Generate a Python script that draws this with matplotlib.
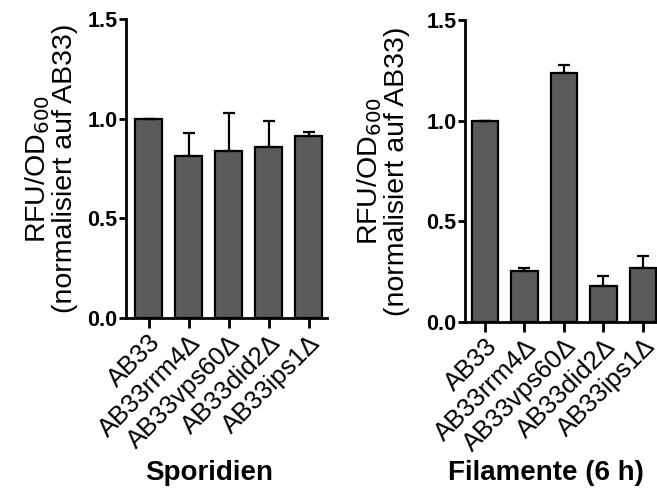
import matplotlib as mpl
mpl.use('Agg')
import matplotlib.pyplot as plt

plt.rcParams['font.family'] = ['Liberation Sans', 'DejaVu Sans']

strains = ['AB33', 'AB33rrm4\u0394', 'AB33vps60\u0394', 'AB33did2\u0394', 'AB33ips1\u0394']

spor_mean = [1.0, 0.815, 0.84, 0.857, 0.915]
spor_err = [0.0, 0.115, 0.19, 0.13, 0.02]

fil_mean = [1.0, 0.25, 1.238, 0.18, 0.267]
fil_err = [0.0, 0.017, 0.04, 0.048, 0.058]

yticks = [0.0, 0.5, 1.0, 1.5]
ylabel = 'RFU/OD$_{600}$\n(normalisiert auf AB33)'
bar_color = '#5a5a5a'


def draw_panel(ax, means, errs, xlim, title, title_x, label_x):
    x = list(range(len(strains)))
    ax.bar(x, means, width=0.67, color=bar_color, edgecolor='black', linewidth=1.6, zorder=2)
    ax.errorbar(x, means, yerr=[[0] * len(errs), errs], fmt='none', ecolor='black',
                elinewidth=1.6, capsize=4, capthick=1.6, zorder=3)
    ax.set_xlim(xlim)
    ax.set_ylim(0, 1.5)
    ax.set_yticks(yticks)
    ax.set_yticklabels(['%.1f' % v for v in yticks], fontsize=15.5, fontweight='bold')
    ax.set_xticks(x)
    # top-right corner anchored at the tick: pushes the text down and to the right
    ax.set_xticklabels(strains, rotation=45, ha='right', va='top',
                       rotation_mode='anchor', fontsize=18.5)
    ax.set_ylabel(ylabel, fontsize=20.5, linespacing=1.0)
    ax.yaxis.set_label_coords(label_x, 0.5)
    for s in ['top', 'right']:
        ax.spines[s].set_visible(False)
    for s in ['left', 'bottom']:
        ax.spines[s].set_linewidth(2)
    ax.tick_params(axis='both', width=2, direction='out')
    ax.tick_params(axis='x', length=7, pad=2)
    ax.tick_params(axis='y', length=5, pad=1)
    ax.figure.text(title_x, 0.025, title, fontsize=20, fontweight='bold', ha='center')


fig = plt.figure(figsize=(6.57, 4.92), dpi=100)
ax1 = fig.add_axes([126 / 657, 0.3537, 201 / 657, 0.6077])
ax2 = fig.add_axes([465 / 657, 0.3461, 196 / 657, 0.6132])

draw_panel(ax1, spor_mean, spor_err, (-0.5625, 4.46), 'Sporidien', 209 / 657, -0.239)
draw_panel(ax2, fil_mean, fil_err, (-0.5, 4.46), 'Filamente (6 h)', 546 / 657, -0.281)

fig.savefig('out.png', dpi=100)
plt.close()
